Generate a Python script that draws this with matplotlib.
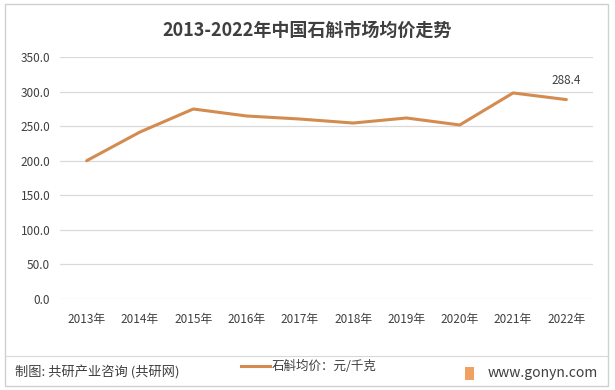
import matplotlib
matplotlib.use('Agg')
from matplotlib import pyplot as plt
from matplotlib.patches import Rectangle
from matplotlib.lines import Line2D

plt.rcParams['font.family'] = ['Noto Sans CJK SC', 'DejaVu Sans']

# data
years = ['2013年', '2014年', '2015年', '2016年', '2017年',
         '2018年', '2019年', '2020年', '2021年', '2022年']
price = [200.0, 241.5, 274.8, 264.7, 260.3, 254.5, 261.8, 251.7, 298.0, 288.4]
yticks = [0, 50, 100, 150, 200, 250, 300, 350]

line_color = '#D38B4F'
text_color = '#3F3F3F'

fig = plt.figure(figsize=(6.15, 3.9), dpi=100)
ax = fig.add_axes([60/615, 1-299/390, 533/615, 242/390])

x = list(range(len(years)))
ax.plot(x, price, color=line_color, lw=2.2, solid_capstyle='round')
ax.annotate('%.1f' % price[-1], (x[-1], price[-1]), xytext=(0, 9),
            textcoords='offset points', ha='center', va='bottom',
            fontsize=8.5, color=text_color, fontweight='medium')

ax.set_xlim(-0.5, len(years) - 0.5)
ax.set_ylim(0, 350)
ax.set_yticks(yticks)
ax.set_yticklabels(['%.1f' % v for v in yticks], fontsize=8.5, color=text_color,
                   fontweight='medium')
ax.set_xticks(x)
ax.set_xticklabels(years, fontsize=8.5, color=text_color, fontweight='medium')
ax.tick_params(axis='y', length=0, pad=7)
ax.tick_params(axis='x', length=0, pad=10)
ax.grid(axis='y', color='#D9D9D9', lw=0.9)
ax.set_axisbelow(True)
for s in ax.spines.values():
    s.set_visible(False)

# title
fig.text(0.5, 1-30/390, '2013-2022年中国石斛市场均价走势', ha='center', va='center',
         fontsize=13, fontweight='bold', color=text_color)

# frame and footer line
fig.add_artist(Rectangle((5/615, 4/390), 603/615, 382/390, transform=fig.transFigure,
                         fill=False, ec='#D0D0D0', lw=1))
fig.add_artist(Line2D([6/615, 607/615], [1-356/390, 1-356/390], transform=fig.transFigure,
                      color='#D9D9D9', lw=0.8))

# legend
fig.add_artist(Line2D([241/615, 270/615], [1-366/390, 1-366/390], transform=fig.transFigure,
                      color=line_color, lw=2.2))
fig.text(272/615, 1-366/390, '石斛均价：元/千克', ha='left', va='center',
         fontsize=9, color=text_color)

# footer
fig.text(15/615, 1-373/390, '制图: 共研产业咨询 (共研网)', ha='left', va='center',
         fontsize=9.5, color=text_color)
fig.add_artist(Rectangle((465/615, 1-380/390), 9/615, 13/390, transform=fig.transFigure,
                         fc='#F0A060', ec='none'))
fig.text(488/615, 1-373/390, 'www.gonyn.com', ha='left', va='center',
         fontsize=10, color=text_color)

fig.savefig('out.png', dpi=100)
